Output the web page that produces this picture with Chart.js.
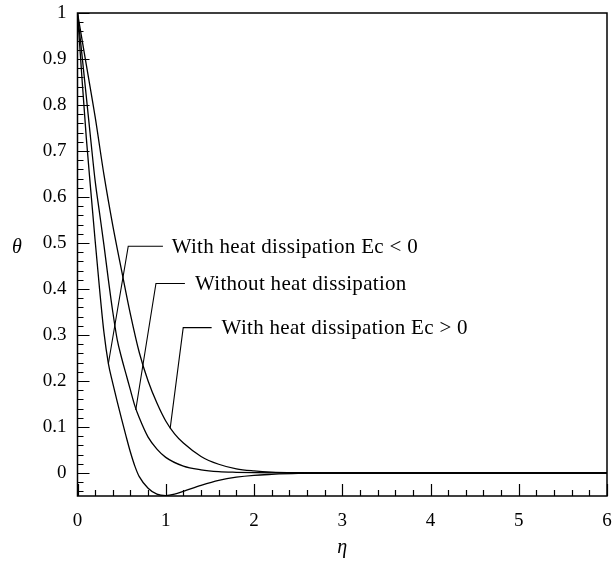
<!DOCTYPE html>
<html>
<head>
<meta charset="utf-8">
<script src="https://cdn.jsdelivr.net/npm/chart.js@4"></script>
<style>
  html, body { margin: 0; padding: 0; background: #fff; }
  #wrap { width: 616px; height: 562px; }
</style>
</head>
<body>
<div id="wrap"><canvas id="theta"></canvas></div>
<script>
// eta values and theta profiles
const etaA = [0, 0.05, 0.1, 0.15, 0.2, 0.25, 0.3, 0.35, 0.4, 0.45, 0.5, 0.55, 0.6, 0.65, 0.7, 0.8, 0.9, 1.0, 1.1, 1.2, 1.4, 1.6, 1.8, 2.0, 2.2, 2.5, 3, 4, 5, 6]
const thetaEcNeg = [1, 0.86, 0.728, 0.615, 0.505, 0.40, 0.305, 0.238, 0.195, 0.155, 0.117, 0.08, 0.045, 0.015, -0.008, -0.033, -0.046, -0.049, -0.046, -0.040, -0.027, -0.016, -0.009, -0.005, -0.003, -0.001, 0, 0, 0, 0]

const etaB = [0, 0.05, 0.1, 0.15, 0.2, 0.25, 0.3, 0.35, 0.4, 0.45, 0.5, 0.55, 0.6, 0.65, 0.7, 0.8, 0.9, 1.0, 1.2, 1.4, 1.6, 1.8, 2.0, 2.5, 3, 4, 5, 6]
const thetaNoDiss = [1, 0.91, 0.818, 0.725, 0.635, 0.565, 0.495, 0.42, 0.35, 0.29, 0.25, 0.215, 0.18, 0.146, 0.12, 0.078, 0.052, 0.034, 0.015, 0.007, 0.003, 0.0015, 0.0007, 0, 0, 0, 0, 0]

const etaC = [0, 0.1, 0.2, 0.3, 0.4, 0.5, 0.6, 0.7, 0.8, 0.9, 1.0, 1.1, 1.2, 1.4, 1.6, 1.8, 2.0, 2.2, 2.5, 3, 4, 5, 6]
const thetaEcPos = [1, 0.887, 0.774, 0.648, 0.538, 0.44, 0.345, 0.262, 0.2, 0.152, 0.113, 0.085, 0.065, 0.036, 0.019, 0.009, 0.0045, 0.002, 0.0007, 0, 0, 0, 0]

const xTicks = [0, 1, 2, 3, 4, 5, 6]
const xTickLabels = ['0', '1', '2', '3', '4', '5', '6']
const yTicks = [0, 0.1, 0.2, 0.3, 0.4, 0.5, 0.6, 0.7, 0.8, 0.9, 1]
const yTickLabels = ['0', '0.1', '0.2', '0.3', '0.4', '0.5', '0.6', '0.7', '0.8', '0.9', '1']

// leader labels: [curve point, elbow, end of horizontal] in (eta, theta), tx = text start
const notes = [
  { text: 'With heat dissipation Ec < 0', pts: [[0.35, 0.238], [0.575, 0.493], [0.968, 0.493]], tx: 1.067 },
  { text: 'Without heat dissipation', pts: [[0.66, 0.137], [0.889, 0.412], [1.217, 0.412]], tx: 1.331 },
  { text: 'With heat dissipation Ec > 0', pts: [[1.05, 0.097], [1.198, 0.316], [1.52, 0.316]], tx: 1.633 },
]

const SERIF = '"Liberation Serif", "DejaVu Serif", serif'

const toXY = (xs, ys) => xs.map((x, i) => ({ x: x, y: ys[i] }))

const line = (label, xs, ys) => ({
  label: label,
  data: toXY(xs, ys),
  showLine: true,
  borderColor: '#000',
  borderWidth: 1.3,
  pointRadius: 0,
  cubicInterpolationMode: 'monotone',
  fill: false,
})

// frame, inward ticks, axis titles and leader notes
const decor = {
  id: 'decor',
  afterDatasetsDraw(chart) {
    const ctx = chart.ctx
    const a = chart.chartArea
    const xs = chart.scales.x
    const ys = chart.scales.y
    ctx.save()
    ctx.strokeStyle = '#000'
    ctx.lineWidth = 1.5
    ctx.strokeRect(a.left, a.top, a.right - a.left, a.bottom - a.top)

    ctx.lineWidth = 1.2
    ctx.beginPath()
    for (let i = 0; i <= 30; i++) {
      const px = Math.round(xs.getPixelForValue(i * 0.2)) + 0.5
      const len = i % 5 === 0 ? 12 : 6
      ctx.moveTo(px, a.bottom)
      ctx.lineTo(px, a.bottom - len)
    }
    for (let i = -2; i <= 50; i++) {
      const py = Math.round(ys.getPixelForValue(i * 0.02)) + 0.5
      const len = i % 5 === 0 ? 12 : 6
      ctx.moveTo(a.left, py)
      ctx.lineTo(a.left + len, py)
    }
    ctx.stroke()

    ctx.fillStyle = '#000'
    ctx.font = 'italic 20px ' + SERIF
    ctx.textAlign = 'center'
    ctx.textBaseline = 'middle'
    ctx.fillText('θ', 17, ys.getPixelForValue(0.49))
    ctx.fillText('η', xs.getPixelForValue(3), 548)

    ctx.lineWidth = 1.1
    ctx.font = '21px ' + SERIF
    ctx.letterSpacing = '0.3px'
    ctx.textAlign = 'left'
    notes.forEach(n => {
      ctx.beginPath()
      n.pts.forEach((p, i) => {
        const px = xs.getPixelForValue(p[0])
        const py = ys.getPixelForValue(p[1])
        if (i === 0) ctx.moveTo(px, py)
        else ctx.lineTo(px, py)
      })
      ctx.stroke()
      ctx.fillText(n.text, xs.getPixelForValue(n.tx), ys.getPixelForValue(n.pts[2][1]) + 1)
    })
    ctx.restore()
  },
}

const ctx = document.getElementById('theta')
window.thetaChart = new Chart(ctx, {
  type: 'scatter',
  data: {
    datasets: [
      line('With heat dissipation Ec < 0', etaA, thetaEcNeg),
      line('Without heat dissipation', etaB, thetaNoDiss),
      line('With heat dissipation Ec > 0', etaC, thetaEcPos),
    ],
  },
  options: {
    responsive: true,
    maintainAspectRatio: false,
    animation: false,
    layout: { padding: { left: 0, right: 9, top: 13, bottom: 0 } },
    plugins: { legend: { display: false }, tooltip: { enabled: false } },
    scales: {
      x: {
        type: 'linear',
        min: 0,
        max: 6,
        grid: { display: false, drawTicks: false },
        border: { display: false },
        afterBuildTicks: s => { s.ticks = xTicks.map(v => ({ value: v })) },
        afterFit: s => { s.height = 66; s.paddingLeft = 0; s.paddingRight = 0 },
        ticks: {
          padding: 14,
          color: '#000',
          font: { family: SERIF, size: 19 },
          maxRotation: 0,
          callback: v => xTickLabels[xTicks.indexOf(v)],
        },
      },
      y: {
        type: 'linear',
        min: -0.05,
        max: 1,
        grid: { display: false, drawTicks: false },
        border: { display: false },
        afterBuildTicks: s => { s.ticks = yTicks.map(v => ({ value: v })) },
        afterFit: s => { s.width = 77.5; s.paddingTop = 0; s.paddingBottom = 0 },
        ticks: {
          padding: 11,
          color: '#000',
          font: { family: SERIF, size: 19 },
          callback: v => yTickLabels[yTicks.indexOf(v)],
        },
      },
    },
  },
  plugins: [decor],
})
</script>
</body>
</html>
